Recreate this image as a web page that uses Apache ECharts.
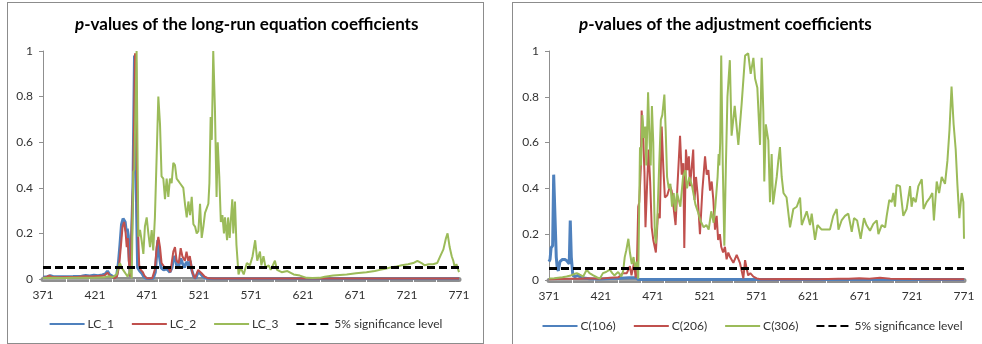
<!DOCTYPE html>
<html>
<head>
<meta charset="utf-8">
<script src="https://cdn.jsdelivr.net/npm/echarts@6/dist/echarts.min.js"></script>
<style>
  html, body { margin: 0; padding: 0; background: #fff; width: 982px; height: 344px; overflow: hidden; }
  .panel { position: absolute; border: 1px solid #8c8c8c; background: #fff; }
  #leftPanel { left: 7px; top: 2px; width: 475px; height: 340px; }
  #rightPanel { left: 512px; top: 2px; width: 478px; height: 350px; }
</style>
</head>
<body>
<div id="leftPanel" class="panel"></div>
<div id="rightPanel" class="panel"></div>
<script>
// x axis tick labels and the white dividers on the grey tick band
const xTicks = [371, 421, 471, 521, 571, 621, 671, 721, 771];
const bandTicks = [393, 415, 438, 460, 482, 504, 527, 549, 571, 593, 615, 638, 660, 682, 704, 727, 749];

// 5% significance level
const sigLevel = [[371, 0.05], [771, 0.05]];

// left panel: long-run equation coefficients
const lc1 = [[371,0.008],[375,0.01],[378,0.014],[381,0.01],[390,0.01],[400,0.011],[408,0.012],[412,0.015],[416,0.013],[420,0.016],[424,0.014],[428,0.018],[431,0.022],[433,0.035],[435,0.02],[438,0.012],[440,0.004],[442,0.02],[443.5,0.07],[445,0.15],[446.5,0.24],[448,0.265],[449,0.27],[450,0.25],[451,0.21],[452,0.22],[453,0.19],[454,0.08],[455,0.01],[456.5,0.005],[457.5,0.4],[459,0.98],[460,0.96],[461,0.3],[462,0.05],[464,0.035],[466,0.025],[468,0.01],[470,0.003],[473,0.002],[477,0.003],[479,0.03],[480.5,0.12],[481.5,0.17],[483,0.1],[484.5,0.05],[487,0.04],[490,0.045],[493,0.03],[495,0.05],[496.5,0.09],[498,0.1],[499.5,0.06],[501.5,0.055],[503.5,0.09],[505,0.07],[507,0.05],[509,0.075],[511,0.06],[512.5,0.08],[514,0.04],[516,0.01],[518,0.003],[520,0.03],[522,0.025],[525,0.01],[528,0.003],[535,0.001],[771,0.001]];
const lc2 = [[371,0.006],[374,0.008],[377,0.015],[379,0.01],[385,0.008],[395,0.009],[405,0.01],[412,0.012],[418,0.011],[424,0.013],[430,0.015],[433,0.028],[435,0.015],[440,0.003],[442,0.01],[444,0.05],[446,0.15],[447.5,0.23],[449,0.25],[450.5,0.2],[451.5,0.14],[452.5,0.18],[453.5,0.08],[455,0.01],[456.5,0.003],[458,0.5],[459.5,0.99],[460.5,0.95],[461.5,0.4],[462.5,0.2],[463.5,0.06],[465,0.04],[467,0.03],[468.5,0.015],[471,0.003],[476,0.003],[478.5,0.04],[480.3,0.14],[481.9,0.185],[483.5,0.14],[485,0.07],[488,0.05],[491.5,0.05],[493.5,0.03],[496.3,0.12],[497.9,0.14],[499.5,0.08],[501.5,0.07],[503.4,0.135],[505,0.1],[507.4,0.08],[509,0.12],[510.6,0.08],[512.2,0.1],[514.5,0.03],[517,0.003],[520.2,0.04],[523.5,0.025],[526.6,0.01],[530,0.003],[536,0.002],[771,0.002]];
const lc3 = [[371,0.004],[380,0.005],[390,0.004],[400,0.006],[410,0.005],[420,0.006],[430,0.008],[434,0.012],[438,0.008],[441.8,0.02],[443.5,0.05],[445,0.07],[446.5,0.05],[448,0.04],[449.5,0.03],[451,0.02],[452.4,0.01],[454,0.03],[455.3,0.05],[456.3,0.003],[457.8,0.47],[458.8,0.48],[459.7,0.7],[461,1.0],[462,0.5],[462.7,0.185],[464.3,0.215],[465.8,0.17],[467.5,0.11],[469,0.23],[470.7,0.27],[472.3,0.2],[473.9,0.14],[475.5,0.215],[477,0.125],[478.6,0.27],[480.3,0.54],[481.9,0.8],[483.5,0.68],[485,0.45],[486.7,0.44],[488.3,0.35],[489.9,0.44],[491.5,0.36],[493.1,0.44],[494.7,0.42],[496.3,0.51],[497.9,0.5],[499.5,0.44],[501.1,0.43],[502.7,0.42],[505.9,0.4],[507.5,0.33],[509.2,0.27],[510.8,0.34],[512.4,0.28],[514,0.36],[515.6,0.24],[517.2,0.23],[518.8,0.2],[520.4,0.21],[522,0.33],[523.6,0.18],[525.2,0.23],[526.8,0.29],[528.4,0.31],[530,0.33],[531,0.42],[532.2,0.71],[533.3,0.61],[534.7,1.0],[536.3,0.75],[537.9,0.36],[539,0.6],[540.5,0.45],[542,0.25],[543.5,0.28],[545,0.2],[546,0.27],[548,0.17],[549,0.27],[550.5,0.18],[551.5,0.25],[553,0.35],[554,0.2],[555.6,0.34],[557,0.15],[559,0.02],[561,0.05],[564,0.02],[567,0.07],[570,0.06],[572.5,0.1],[575,0.17],[577,0.08],[579.6,0.12],[581,0.06],[583,0.1],[585,0.05],[588,0.06],[590,0.04],[594,0.08],[596,0.04],[600.5,0.03],[606,0.035],[612,0.02],[618,0.015],[624.5,0.005],[630,0.004],[637,0.005],[642,0.01],[650,0.015],[663,0.02],[672,0.025],[682,0.03],[690,0.035],[695,0.04],[700,0.045],[705,0.05],[711,0.055],[716,0.06],[722,0.065],[727,0.07],[731,0.08],[735,0.07],[738,0.06],[742,0.065],[746,0.065],[750,0.07],[753,0.1],[756,0.13],[758.5,0.18],[760,0.2],[762,0.14],[764,0.1],[765.5,0.08],[767,0.05],[768.5,0.065],[770,0.06],[771,0.03]];

// right panel: adjustment coefficients
const c106 = [[371,0.08],[372,0.09],[373,0.14],[374.5,0.15],[375.5,0.46],[377,0.46],[378,0.1],[379,0.05],[380,0.04],[381.5,0.08],[384,0.09],[386,0.09],[388,0.085],[389.5,0.08],[390.5,0.07],[391.5,0.26],[392.5,0.1],[394,0.02],[396,0.015],[399,0.02],[402,0.01],[410,0.005],[420,0.004],[430,0.006],[440,0.008],[448,0.01],[455,0.01],[457,0.002],[771,0.002]];
const c206 = [[371,0.003],[380,0.004],[390,0.006],[400,0.005],[410,0.008],[420,0.006],[430,0.01],[438,0.012],[442,0.03],[446,0.03],[449,0.06],[450.5,0.02],[453,0.075],[454.5,0.01],[455.6,0.04],[457,0.32],[458,0.34],[459.5,0.49],[460.3,0.74],[462,0.6],[463,0.47],[464,0.23],[465.5,0.41],[467,0.57],[468.5,0.43],[470,0.23],[471.5,0.175],[474,0.12],[476,0.29],[477.8,0.27],[479.6,0.67],[481.2,0.49],[482.7,0.36],[485,0.37],[487.6,0.41],[489.2,0.39],[491,0.32],[493,0.24],[494.8,0.41],[497.3,0.63],[498.9,0.46],[500.5,0.51],[501.4,0.14],[503,0.57],[504.5,0.48],[505.8,0.54],[506.9,0.41],[508.5,0.49],[510,0.57],[511.3,0.35],[512.7,0.45],[514.3,0.37],[516.5,0.2],[518.8,0.39],[521.4,0.54],[523,0.46],[524.6,0.48],[526.2,0.39],[527.8,0.43],[529.4,0.35],[531,0.22],[532.6,0.28],[534,0.175],[535.7,0.2],[537,0.145],[538.8,0.12],[540.6,0.145],[542.2,0.09],[543.8,0.12],[545.5,0.1],[548.7,0.075],[551.9,0.11],[555,0.075],[558.3,0.007],[560,0.087],[561.5,0.05],[563,0.02],[565,0.03],[568,0.015],[571.2,0.007],[575,0.003],[600,0.004],[630,0.003],[650,0.006],[660,0.005],[670,0.008],[680,0.006],[690,0.01],[700,0.006],[720,0.004],[740,0.003],[771,0.003]];
const c306 = [[371,0.007],[376,0.008],[380,0.01],[384,0.012],[388,0.015],[392,0.02],[395,0.025],[397.7,0.03],[400,0.025],[402,0.02],[404,0.015],[407.3,0.045],[410,0.03],[413.7,0.02],[417,0.012],[420,0.006],[423,0.03],[426,0.035],[429.6,0.045],[432,0.03],[434,0.02],[437.6,0.035],[440.8,0.015],[442.5,0.04],[444,0.1],[445.5,0.13],[447.5,0.18],[449,0.12],[450.8,0.07],[452.5,0.1],[454,0.05],[455.6,0.08],[457,0.005],[458.7,0.58],[459.7,0.5],[461,0.72],[462.4,0.62],[463.8,0.67],[464.8,0.5],[466.5,0.82],[468,0.6],[469,0.5],[470.2,0.76],[471.5,0.6],[472.3,0.35],[473,0.2],[474,0.16],[475.3,0.25],[477.2,0.5],[478.8,0.7],[480.2,0.72],[482.2,0.81],[483.5,0.65],[484.8,0.45],[486.4,0.4],[488,0.42],[489.6,0.32],[491.2,0.38],[492.8,0.3],[494.4,0.38],[497.6,0.32],[500.2,0.45],[502.4,0.48],[504,0.4],[506.3,0.45],[508.9,0.41],[512.1,0.33],[514.4,0.3],[516.9,0.26],[520.1,0.23],[522.7,0.24],[524.9,0.22],[527.4,0.3],[529.7,0.25],[531.3,0.32],[533.5,0.45],[534.5,0.55],[535.2,0.5],[536,0.6],[537,0.98],[538.5,0.5],[540,0.15],[541.5,0.5],[543,0.8],[545.3,0.96],[547,0.63],[550,0.76],[553.5,0.59],[556.7,0.77],[560,0.98],[563,0.99],[565.4,0.9],[568,0.97],[569.6,0.88],[571.8,0.84],[574.4,0.59],[576,0.97],[577.6,0.73],[578.5,0.43],[580,0.68],[582.4,0.61],[584,0.34],[585.6,0.55],[587,0.33],[590.5,0.45],[592,0.52],[593.6,0.58],[595.3,0.45],[597,0.38],[600,0.36],[603.3,0.23],[606.5,0.31],[609.8,0.32],[613,0.36],[614.6,0.24],[619.4,0.3],[622.6,0.24],[624.2,0.29],[627.4,0.175],[629.7,0.24],[633.8,0.22],[641.8,0.22],[645,0.28],[648.3,0.31],[650,0.22],[653,0.26],[656.3,0.28],[659.5,0.29],[662.8,0.21],[665,0.27],[668,0.26],[671.4,0.18],[674.6,0.27],[677,0.24],[680.4,0.215],[683.6,0.245],[686.9,0.26],[688.5,0.2],[691.7,0.24],[695,0.23],[696.5,0.28],[699,0.35],[701.3,0.34],[702.9,0.38],[704.5,0.32],[706,0.415],[709.3,0.41],[712.5,0.28],[715.7,0.31],[719,0.41],[720.5,0.32],[722,0.36],[724.5,0.34],[727,0.41],[730.3,0.44],[732,0.31],[735,0.34],[738.2,0.36],[740.5,0.38],[742,0.26],[744.7,0.43],[747,0.38],[749.5,0.45],[752.7,0.42],[755,0.52],[757,0.655],[759,0.845],[761,0.68],[763,0.57],[764.6,0.42],[766.5,0.27],[768.8,0.38],[770.4,0.34],[771,0.18]];

const FONT = 'Lato, "Open Sans", sans-serif';
const BLUE = '#4f81bd';
const RED = '#c0504d';
const GREEN = '#9bbb59';

function lineSeries(name, data, color, width) {
  return {
    name: name,
    type: 'line',
    data: data,
    xAxisIndex: 1,
    symbol: 'none',
    smooth: false,
    animation: false,
    lineStyle: { color: color, width: width },
    itemStyle: { color: color }
  };
}

function sigSeries() {
  return {
    name: '5% significance level',
    type: 'line',
    data: sigLevel,
    xAxisIndex: 1,
    symbol: 'none',
    animation: false,
    lineStyle: { color: '#000', width: 3, type: [8, 4] },
    itemStyle: { color: '#000' }
  };
}

function panelOption(cfg) {
  const xBase = { type: 'value', min: 371, max: 771, gridIndex: 0, position: 'bottom', splitLine: { show: false } };
  return {
    animation: false,
    textStyle: { fontFamily: FONT },
    title: {
      text: '{i|p}-values of the ' + cfg.title,
      left: cfg.titleLeft,
      top: 8,
      textStyle: {
        fontFamily: FONT, fontSize: 17, fontWeight: 'bold', color: '#000',
        rich: { i: { fontFamily: FONT, fontSize: 17, fontWeight: 'bold', fontStyle: 'italic', color: '#000' } }
      }
    },
    grid: { left: cfg.gridLeft, top: 48, width: cfg.gridWidth, height: cfg.gridHeight },
    legend: {
      top: cfg.legendTop,
      left: 'center',
      itemWidth: 35,
      itemHeight: 10,
      itemGap: 17,
      itemStyle: { opacity: 0 },
      textStyle: { fontFamily: FONT, fontSize: 12, color: '#333', padding: [0, 0, 0, -2] },
      data: cfg.names.concat(['5% significance level'])
    },
    xAxis: [
      // grey tick band below the axis
      Object.assign({}, xBase, {
        offset: 3,
        axisLine: { show: true, lineStyle: { color: '#8f8f8f', width: 5 } },
        axisTick: { show: false },
        axisLabel: { show: false }
      }),
      Object.assign({}, xBase, {
        axisLine: { show: true, lineStyle: { color: '#a6a6a6', width: 1 } },
        axisTick: { show: true, customValues: bandTicks, length: 6, lineStyle: { color: '#fff', width: 1 } },
        axisLabel: { customValues: xTicks, margin: 10, fontFamily: FONT, fontSize: 12, color: '#333' }
      })
    ],
    yAxis: {
      type: 'value',
      min: 0,
      max: 1,
      interval: 0.2,
      splitLine: { show: false },
      axisLine: { show: true, lineStyle: { color: '#8f8f8f', width: 1 } },
      axisTick: { show: true, length: 4, lineStyle: { color: '#8f8f8f' } },
      axisLabel: { margin: 10, fontFamily: FONT, fontSize: 12, color: '#333' }
    },
    series: [
      lineSeries(cfg.names[0], cfg.data[0], BLUE, 3),
      lineSeries(cfg.names[1], cfg.data[1], RED, 2),
      lineSeries(cfg.names[2], cfg.data[2], GREEN, 2),
      sigSeries()
    ]
  };
}

const leftChart = echarts.init(document.getElementById('leftPanel'));
leftChart.setOption(panelOption({
  title: 'long-run equation coefficients',
  titleLeft: 62,
  gridLeft: 35, gridWidth: 416, gridHeight: 228,
  legendTop: 310,
  names: ['LC_1', 'LC_2', 'LC_3'],
  data: [lc1, lc2, lc3]
}));

const rightChart = echarts.init(document.getElementById('rightPanel'));
rightChart.setOption(panelOption({
  title: 'adjustment coefficients',
  titleLeft: 61,
  gridLeft: 36, gridWidth: 415, gridHeight: 229,
  legendTop: 312,
  names: ['C(106)', 'C(206)', 'C(306)'],
  data: [c106, c206, c306]
}));
</script>
</body>
</html>
